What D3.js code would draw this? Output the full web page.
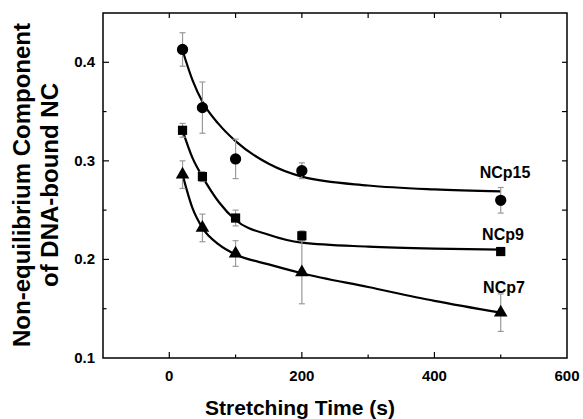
<!DOCTYPE html>
<html>
<head>
<meta charset="utf-8">
<script src="https://cdn.jsdelivr.net/npm/d3@7"></script>
<style>
  body { margin: 0; background: #fff; }
  svg { display: block; font-family: "Liberation Sans", Arial, sans-serif; }
  .tick-label { font-size: 15px; font-weight: bold; }
  .axis-title { font-weight: bold; }
  .series-label { font-size: 16px; font-weight: bold; }
</style>
</head>
<body>
<div id="chart"></div>
<script>
// measured points (stretching time, s)
const times = [20, 50, 100, 200, 500];

const ncp15 = [0.413, 0.354, 0.302, 0.290, 0.260];
const ncp15Err = [0.017, 0.026, 0.020, 0.008, 0.013];

const ncp9 = [0.331, 0.284, 0.242, 0.224, 0.208];
const ncp9Err = [0.007, 0.005, 0.008, 0.005, 0.003];

const ncp7 = [0.286, 0.232, 0.206, 0.187, 0.146];
const ncp7Err = [0.014, 0.014, 0.013, 0.032, 0.019];

// fitted curves
const fitTimes = [20, 35, 50, 75, 100, 150, 200, 300, 400, 500];
const ncp15Fit = [0.412, 0.382, 0.360, 0.337, 0.320, 0.297, 0.284, 0.275, 0.271, 0.269];
const ncp9Fit = [0.331, 0.303, 0.284, 0.258, 0.240, 0.225, 0.217, 0.213, 0.211, 0.210];
const ncp7Fit = [0.286, 0.252, 0.232, 0.215, 0.205, 0.195, 0.186, 0.172, 0.158, 0.146];

const xTicks = [0, 200, 400, 600];
const xMinorTicks = [-100, 100, 300, 500];
const yTicks = [0.1, 0.2, 0.3, 0.4];
const yMinorTicks = [0.15, 0.25, 0.35];

const seriesNames = ['NCp15', 'NCp9', 'NCp7'];

const width = 583;
const height = 419;
const margins = { left: 103, right: 16, top: 13, bottom: 61 };

const svg = d3.select('#chart')
  .append('svg')
    .attr('width', width)
    .attr('height', height);

const x = d3.scaleLinear()
  .domain([-100, 600])
  .range([margins.left, width - margins.right]);

const y = d3.scaleLinear()
  .domain([0.1, 0.45])
  .range([height - margins.bottom, margins.top]);

const x0 = x.range()[0], x1 = x.range()[1];
const y0 = y.range()[0], y1 = y.range()[1];

// inward ticks on all four sides
const ticks = svg.append('g')
    .attr('stroke', '#000')
    .attr('stroke-width', 1.2);

function hTicks(vals, len) {
  ticks.selectAll(null).data(vals.filter(v => v > -100 && v < 600)).enter()
    .append('line')
      .attr('x1', d => x(d)).attr('x2', d => x(d))
      .attr('y1', y0).attr('y2', y0 - len);
  ticks.selectAll(null).data(vals.filter(v => v > -100 && v < 600)).enter()
    .append('line')
      .attr('x1', d => x(d)).attr('x2', d => x(d))
      .attr('y1', y1).attr('y2', y1 + 5);
}
function vTicks(vals, len) {
  ticks.selectAll(null).data(vals.filter(v => v > 0.1)).enter()
    .append('line')
      .attr('y1', d => y(d)).attr('y2', d => y(d))
      .attr('x1', x0).attr('x2', x0 + len);
  ticks.selectAll(null).data(vals.filter(v => v > 0.1)).enter()
    .append('line')
      .attr('y1', d => y(d)).attr('y2', d => y(d))
      .attr('x1', x1).attr('x2', x1 - 5);
}
hTicks(xTicks, 6);
hTicks(xMinorTicks, 3.5);
vTicks(yTicks, 6);
vTicks(yMinorTicks, 3.5);

// frame
svg.append('rect')
    .attr('x', x0).attr('y', y1)
    .attr('width', x1 - x0).attr('height', y0 - y1)
    .attr('fill', 'none')
    .attr('stroke', '#000')
    .attr('stroke-width', 1.5);

svg.selectAll('.x-label')
  .data(xTicks).enter()
  .append('text')
    .attr('class', 'tick-label')
    .attr('x', d => x(d))
    .attr('y', y0 + 23)
    .attr('text-anchor', 'middle')
    .text(d => d);

svg.selectAll('.y-label')
  .data(yTicks).enter()
  .append('text')
    .attr('class', 'tick-label')
    .attr('x', x0 - 8)
    .attr('y', d => y(d) + 5)
    .attr('text-anchor', 'end')
    .text(d => d3.format('.1f')(d));

// axis titles
svg.append('text')
    .attr('class', 'axis-title')
    .attr('x', (x0 + x1) / 2 - 35)
    .attr('y', 415)
    .attr('text-anchor', 'middle')
    .style('font-size', '21px')
    .text('Stretching Time (s)');

const yTitle = svg.append('text')
    .attr('class', 'axis-title')
    .attr('transform', 'rotate(-90)')
    .attr('text-anchor', 'middle')
    .style('font-size', '24px');
yTitle.append('tspan')
    .attr('x', -185).attr('y', 30)
    .text('Non-equilibrium Component');
yTitle.append('tspan')
    .attr('x', -185).attr('y', 58)
    .text('of DNA-bound NC');

// fit lines
const line = d3.line()
  .x(d => x(d[0]))
  .y(d => y(d[1]))
  .curve(d3.curveMonotoneX);

[ncp15Fit, ncp9Fit, ncp7Fit].forEach(fit => {
  svg.append('path')
      .datum(fitTimes.map((t, i) => [t, fit[i]]))
      .attr('d', line)
      .attr('fill', 'none')
      .attr('stroke', '#000')
      .attr('stroke-width', 2.2);
});

// error bars (grey)
const series = [
  { vals: ncp15, err: ncp15Err, symbol: d3.symbolCircle, size: 100 },
  { vals: ncp9, err: ncp9Err, symbol: d3.symbolSquare, size: 85 },
  { vals: ncp7, err: ncp7Err, symbol: d3.symbolTriangle, size: 80 },
];

series.forEach(s => {
  const g = svg.append('g')
      .attr('stroke', '#9a9a9a')
      .attr('stroke-width', 1.2);
  times.forEach((t, i) => {
    const cx = x(t);
    const top = y(s.vals[i] + s.err[i]);
    const bot = y(s.vals[i] - s.err[i]);
    g.append('line').attr('x1', cx).attr('x2', cx).attr('y1', top).attr('y2', bot);
    g.append('line').attr('x1', cx - 3).attr('x2', cx + 3).attr('y1', top).attr('y2', top);
    g.append('line').attr('x1', cx - 3).attr('x2', cx + 3).attr('y1', bot).attr('y2', bot);
  });
});

series.forEach(s => {
  svg.append('g')
    .selectAll('path')
    .data(times.map((t, i) => [t, s.vals[i]]))
    .enter()
    .append('path')
      .attr('transform', d => 'translate(' + x(d[0]) + ',' + y(d[1]) + ')')
      .attr('d', d3.symbol().type(s.symbol).size(s.size))
      .attr('fill', '#000');
});

// series labels
const labelPos = [[505, 178], [503, 240], [504, 293]];
seriesNames.forEach((name, i) => {
  svg.append('text')
      .attr('class', 'series-label')
      .attr('x', labelPos[i][0])
      .attr('y', labelPos[i][1])
      .attr('text-anchor', 'middle')
      .text(name);
});
</script>
</body>
</html>
